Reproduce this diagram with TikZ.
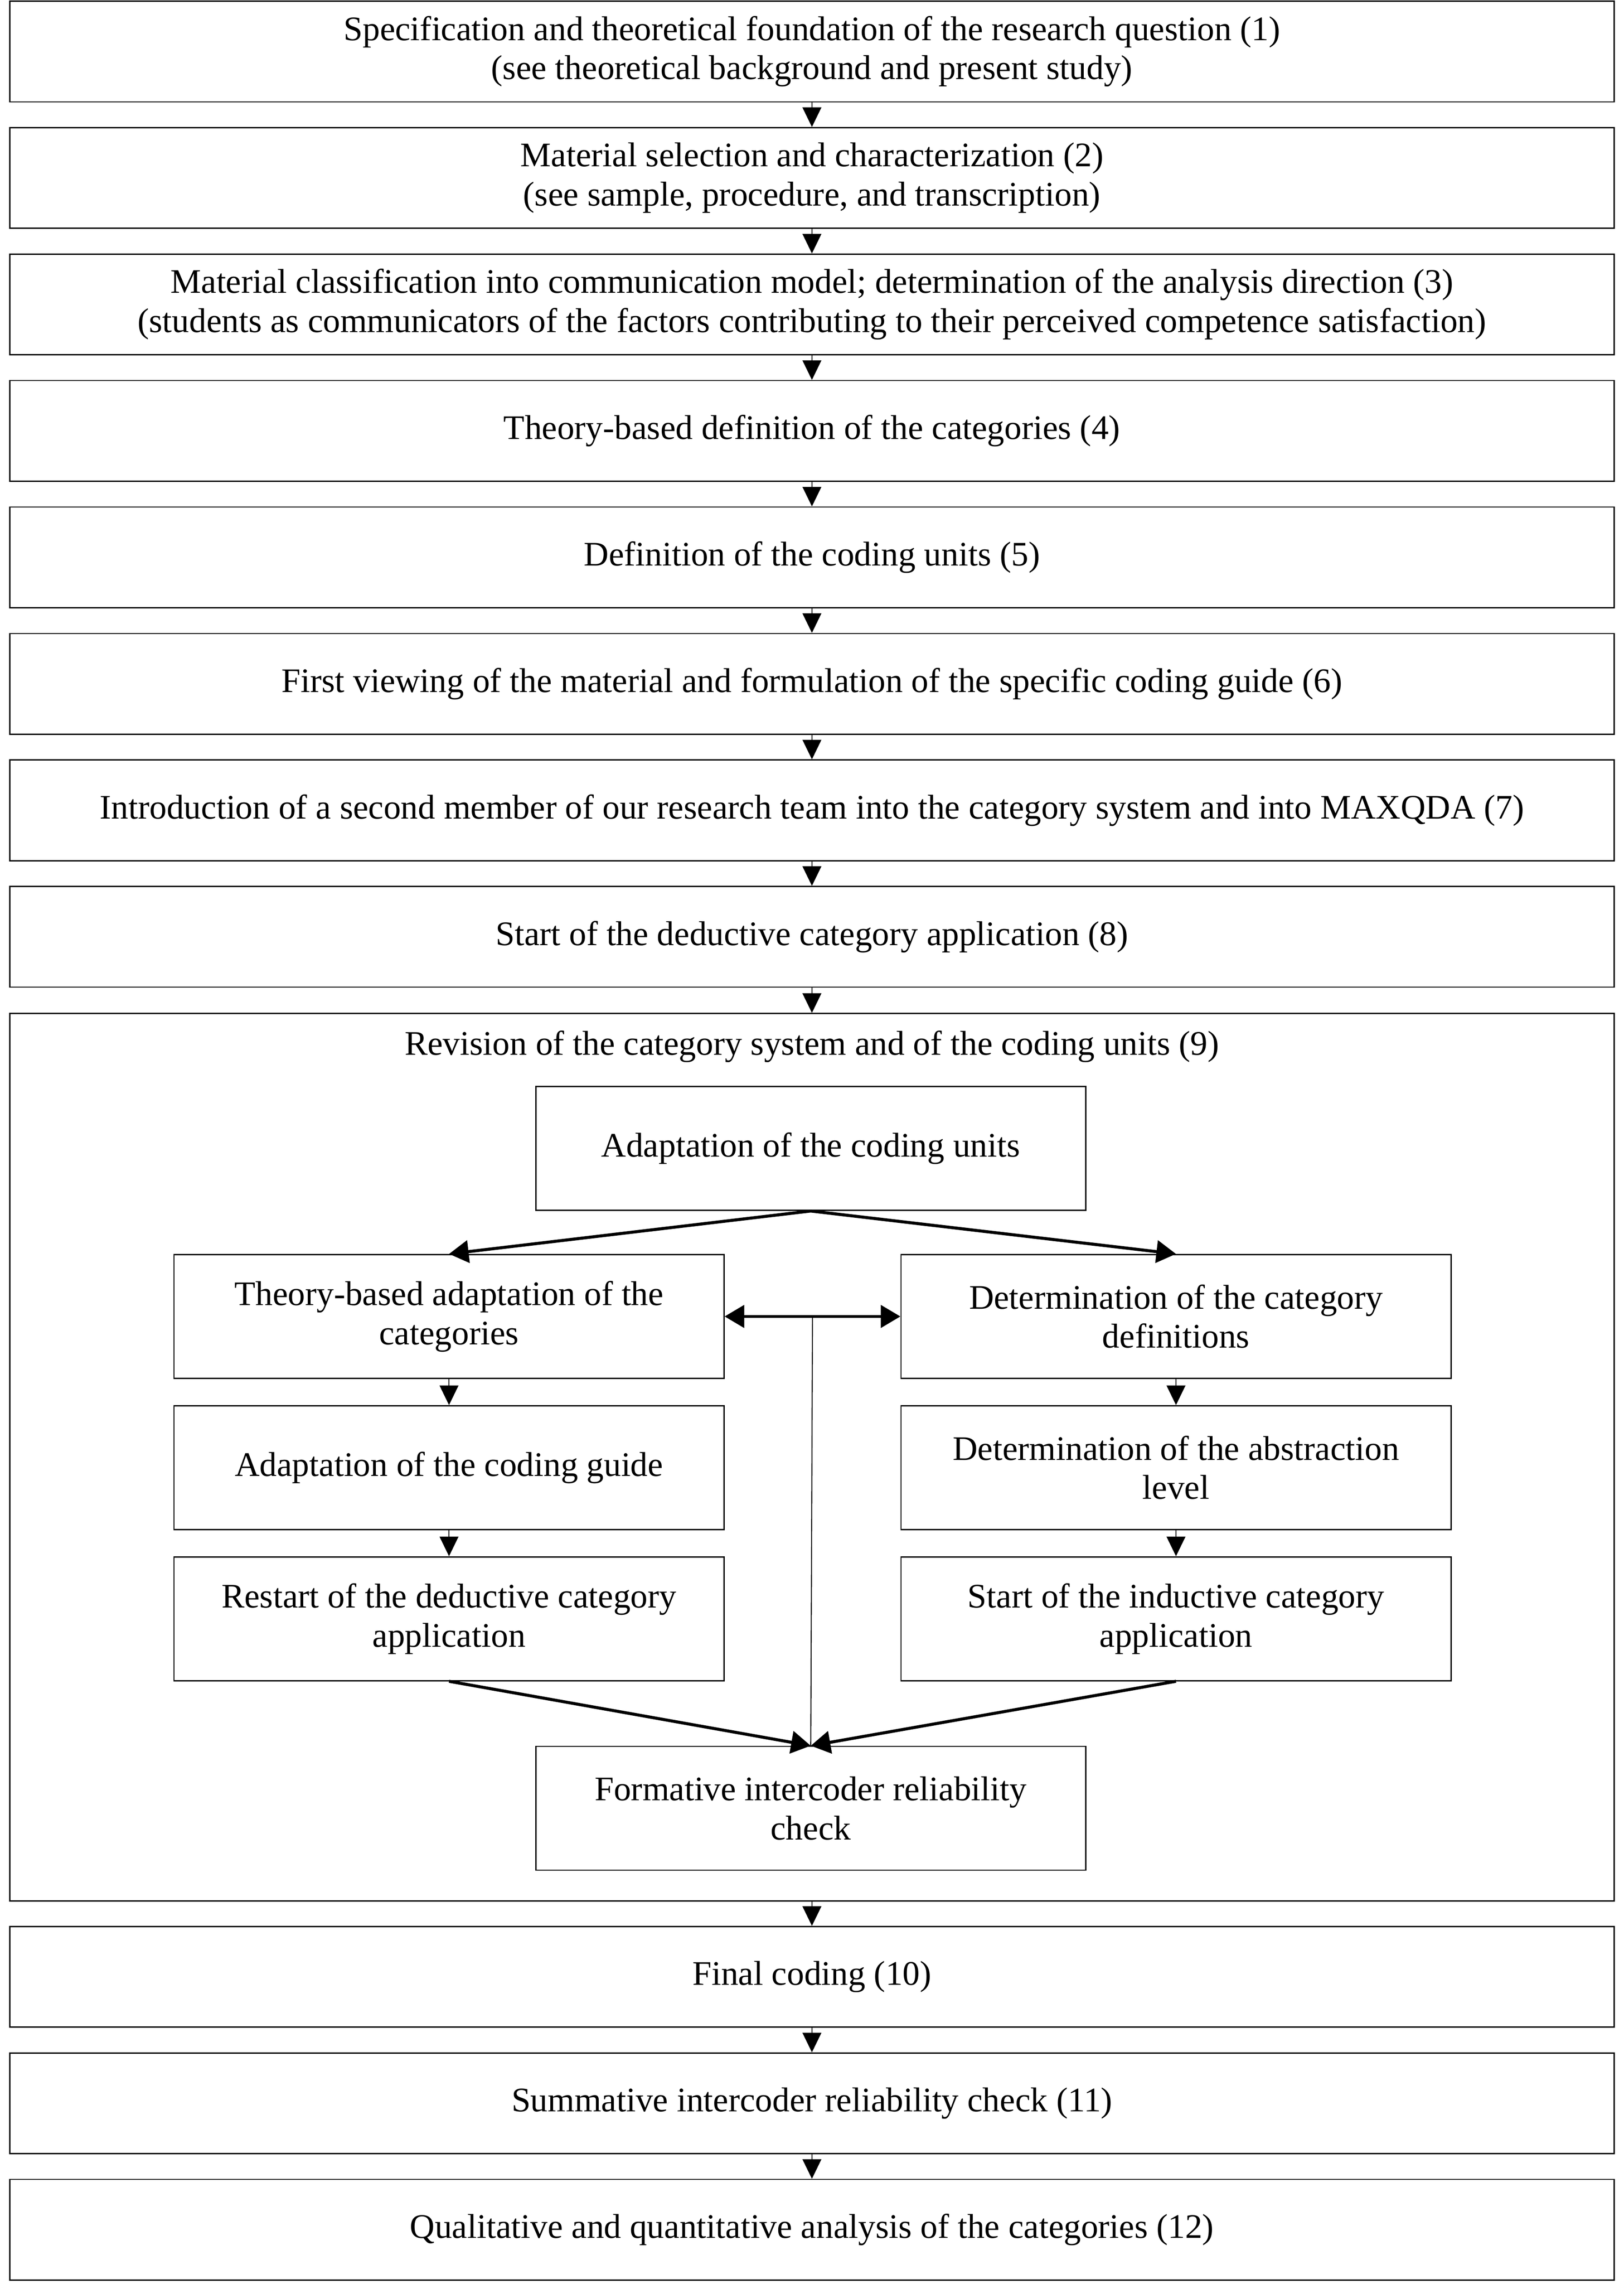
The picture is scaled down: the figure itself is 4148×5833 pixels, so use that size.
\documentclass[tikz,border=0pt]{standalone}
\usepackage{fontspec}
\setmainfont{Liberation Serif}
\usetikzlibrary{arrows.meta,calc}
\begin{document}
\begin{tikzpicture}[x=0.01cm,y=-0.01cm,
  txt/.style={font=\fontsize{25}{28.45}\selectfont, align=center},
  mainbox/.style={txt, draw, line width=0.9pt, minimum width=40.96cm, minimum height=2.57cm, inner sep=0pt},
  subbox/.style={txt, draw, line width=0.9pt, minimum width=14.04cm, minimum height=3.16cm, inner sep=0pt},
  flow/.style={line width=0.7pt, -{Triangle[length=0.5cm,width=0.48cm]}},
  bold flow/.style={line width=2.2pt, -{Triangle[length=0.5cm,width=0.57cm]}},
  bold both/.style={line width=2.2pt, {Triangle[length=0.5cm,width=0.57cm]}-{Triangle[length=0.5cm,width=0.57cm]}}
]
\useasboundingbox (0,0) rectangle (4148,5833);
\node[mainbox] (b1) at (2074,131.5) {Specification and theoretical foundation of the research question (1)\\(see theoretical background and present study)};
\node[mainbox] (b2) at (2074,454.5) {Material selection and characterization (2)\\(see sample, procedure, and transcription)};
\node[mainbox] (b3) at (2074,777.5) {Material classification into communication model; determination of the analysis direction (3)\\(students as communicators of the factors contributing to their perceived competence satisfaction)};
\node[mainbox] (b4) at (2074,1100.5) {Theory-based definition of the categories (4)};
\node[mainbox] (b5) at (2074,1423.5) {Definition of the coding units (5)};
\node[mainbox] (b6) at (2074,1746.5) {First viewing of the material and formulation of the specific coding guide (6)};
\node[mainbox] (b7) at (2074,2069.5) {Introduction of a second member of our research team into the category system and into MAXQDA (7)};
\node[mainbox] (b8) at (2074,2392.5) {Start of the deductive category application (8)};
\node[draw, line width=0.9pt, minimum width=40.96cm, minimum height=22.65cm, inner sep=0pt] (big) at (2074,3721.5) {};
\node[txt] (title) at (2074,2673) {Revision of the category system and of the coding units (9)};
\node[subbox] (adapt) at (2071,2933) {Adaptation of the coding units};
\node[subbox] (l1) at (1147,3362) {Theory-based adaptation of the\\categories};
\node[subbox] (l2) at (1147,3748) {Adaptation of the coding guide};
\node[subbox] (l3) at (1147,4134) {Restart of the deductive category\\application};
\node[subbox] (r1) at (3004,3362) {Determination of the category\\definitions};
\node[subbox] (r2) at (3004,3748) {Determination of the abstraction\\level};
\node[subbox] (r3) at (3004,4134) {Start of the inductive category\\application};
\node[subbox] (form) at (2071,4618) {Formative intercoder reliability\\check};
\node[mainbox] (b10) at (2074,5048.5) {Final coding (10)};
\node[mainbox] (b11) at (2074,5371.5) {Summative intercoder reliability check (11)};
\node[mainbox] (b12) at (2074,5694.5) {Qualitative and quantitative analysis of the categories (12)};
\draw[flow] (b1.south) -- (b2.north);
\draw[flow] (b2.south) -- (b3.north);
\draw[flow] (b3.south) -- (b4.north);
\draw[flow] (b4.south) -- (b5.north);
\draw[flow] (b5.south) -- (b6.north);
\draw[flow] (b6.south) -- (b7.north);
\draw[flow] (b7.south) -- (b8.north);
\draw[flow] (b8.south) -- (big.north);
\draw[flow] (big.south) -- (b10.north);
\draw[flow] (b10.south) -- (b11.north);
\draw[flow] (b11.south) -- (b12.north);
\draw[bold flow] (adapt.south) -- (l1.north);
\draw[bold flow] (adapt.south) -- (r1.north);
\draw[flow] (l1.south) -- (l2.north);
\draw[flow] (l2.south) -- (l3.north);
\draw[flow] (r1.south) -- (r2.north);
\draw[flow] (r2.south) -- (r3.north);
\draw[bold both] (l1.east) -- (r1.west);
\coordinate (mid) at ($(l1.east)!0.5!(r1.west)$);
\draw[line width=0.7pt] (mid) -- (form.north);
\draw[bold flow] (l3.south) -- (form.north);
\draw[bold flow] (r3.south) -- (form.north);
\end{tikzpicture}
\end{document}
